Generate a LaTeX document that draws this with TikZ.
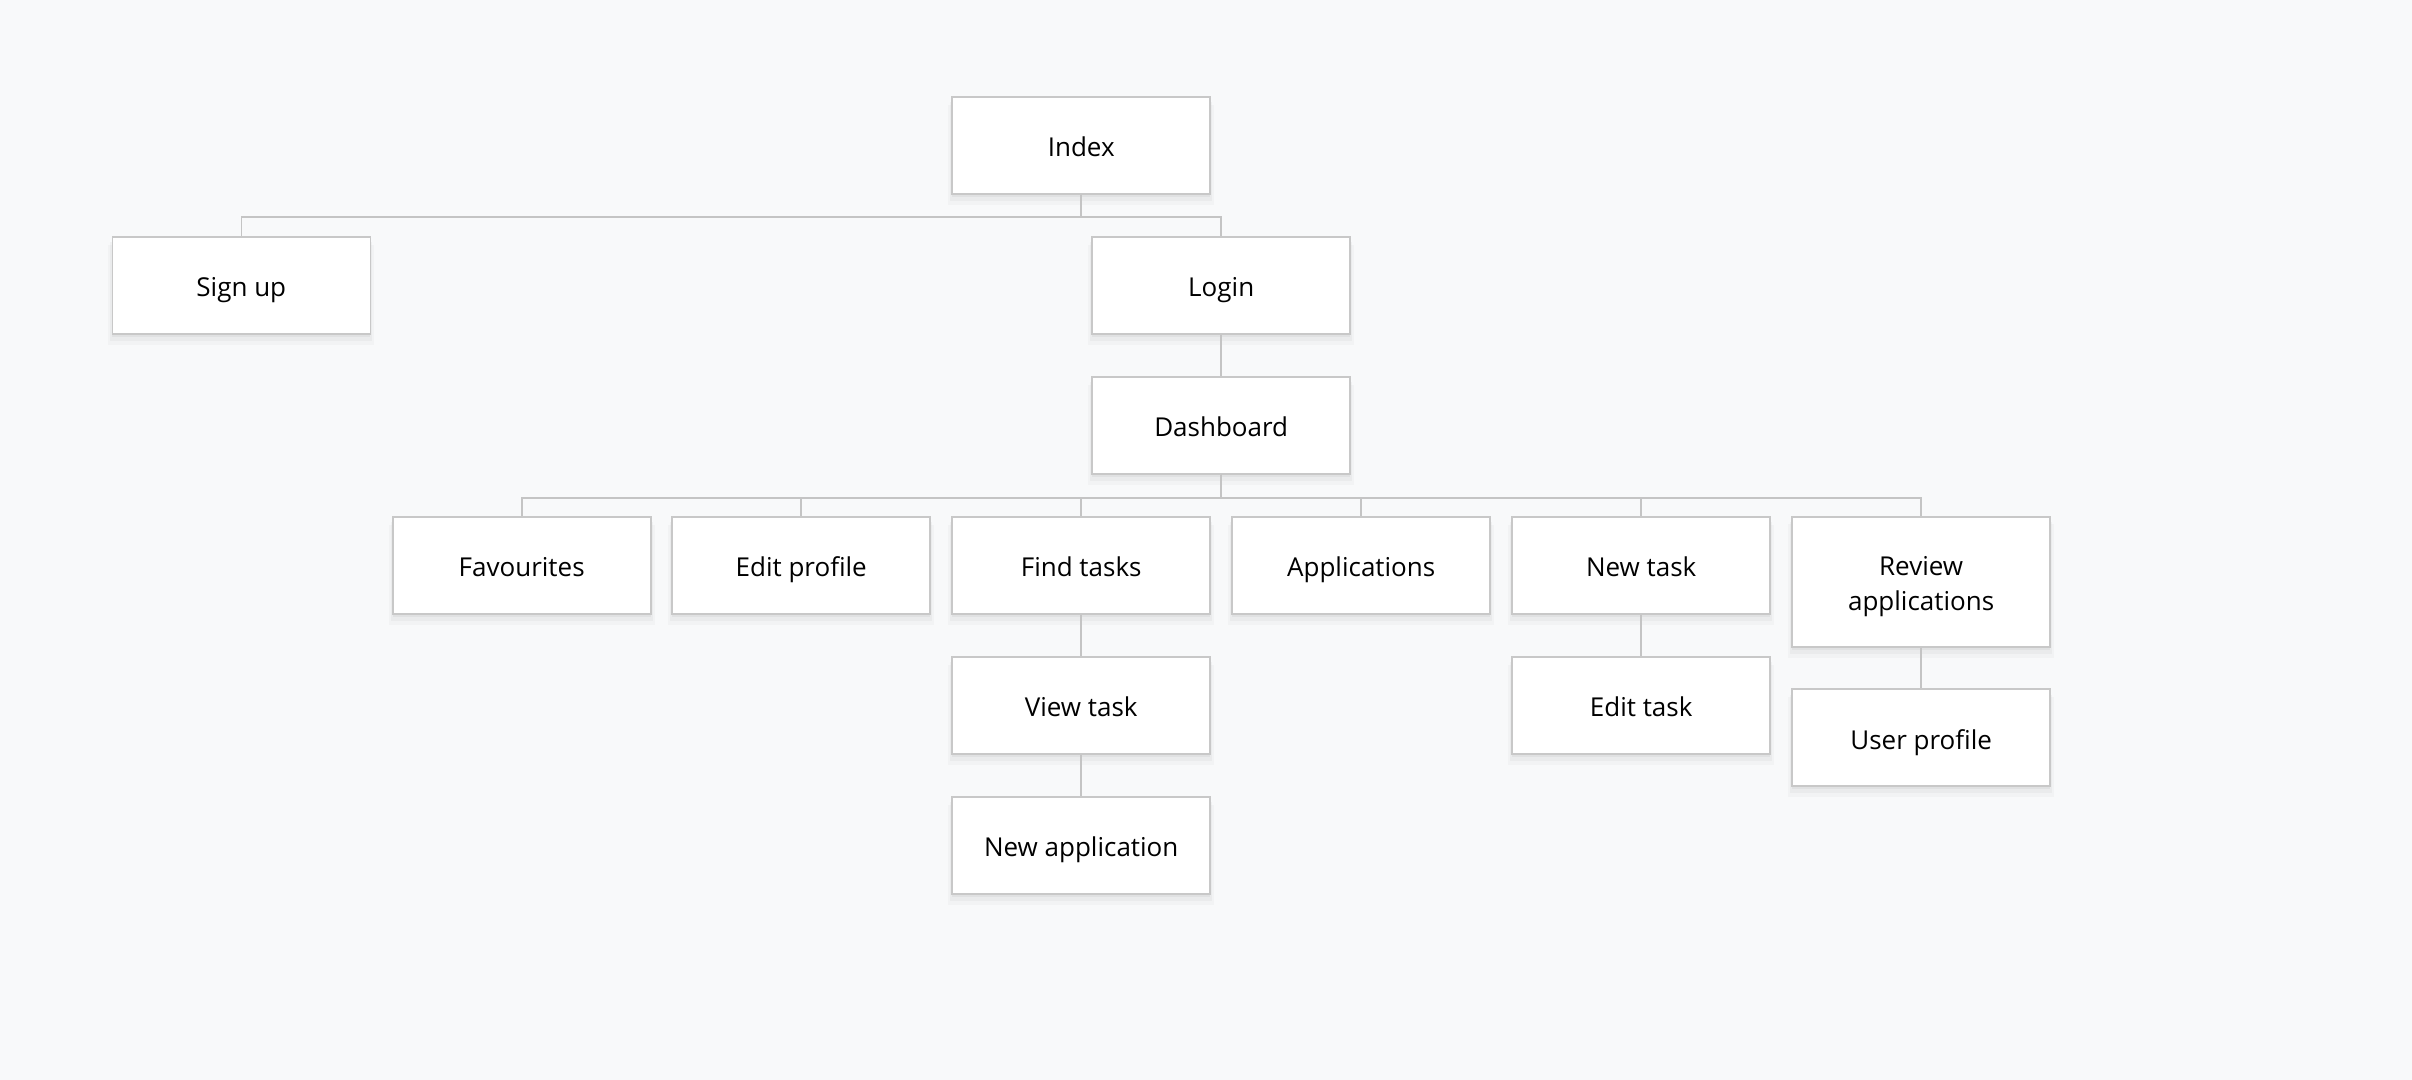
\documentclass[tikz,border=0pt]{standalone}
\usepackage{fontspec}
\setmainfont{Open Sans}
\usetikzlibrary{shadows}
\definecolor{bg}{HTML}{F8F9FA}
\definecolor{boxline}{HTML}{C8C8C8}
\definecolor{conn}{HTML}{C4C4C4}
\tikzset{
  page/.style={x=0.5pt,y=-0.5pt},
  softshadow/.style={
    drop shadow={shadow xshift=0pt, shadow yshift=-4.5pt, shadow scale=1.03, opacity=0.025, fill=black},
    drop shadow={shadow xshift=0pt, shadow yshift=-3pt, shadow scale=1.015, opacity=0.03, fill=black},
    drop shadow={shadow xshift=0pt, shadow yshift=-1.5pt, opacity=0.04, fill=black}},
  pagebox/.style={draw=boxline, fill=white, line width=0.8pt, rectangle,
    minimum width=129pt, minimum height=48.5pt, inner sep=2pt, align=center,
    text height=12.3pt, text depth=0.8pt,
    font=\fontsize{13pt}{17.5pt}\selectfont, softshadow},
  tallbox/.style={pagebox, minimum height=65pt, text height={}, text depth={}},
  link/.style={draw=conn, line width=0.8pt}
}
\begin{document}
\begin{tikzpicture}[page]
\fill[bg] (0,0) rectangle (2412,1080);
\useasboundingbox (0,0) rectangle (2412,1080);
\node[pagebox] (index) at (1081.2,145.5) {Index};
\node[pagebox] (signup) at (241.3,285.4) {Sign up};
\node[pagebox] (login) at (1221.2,285.4) {Login};
\node[pagebox] (dash) at (1221.2,425.4) {Dashboard};
\node[pagebox] (fav) at (521.7,565.4) {Favourites};
\node[pagebox] (edit) at (801.2,565.4) {Edit profile};
\node[pagebox] (find) at (1081.2,565.4) {Find tasks};
\node[pagebox] (apps) at (1361.2,565.4) {Applications};
\node[pagebox] (newtask) at (1641.2,565.4) {New task};
\node[tallbox] (review) at (1921.1,581.9) {\rule{0pt}{13.8pt}Review\\applications};
\node[pagebox] (view) at (1081.2,705.4) {View task};
\node[pagebox] (newapp) at (1081.2,845.4) {New application};
\node[pagebox] (edittask) at (1641.2,705.4) {Edit task};
\node[pagebox] (user) at (1921.1,737.7) {User profile};
% connectors
\draw[link] (index.south) -- ++(0,22.5) -| (signup.north);
\draw[link] (index.south) -- ++(0,22.5) -| (login.north);
\draw[link] (login.south) -- (dash.north);
\foreach \c in {fav,edit,find,apps,newtask,review}
  \draw[link] (dash.south) -- ++(0,23) -| (\c.north);
\draw[link] (find.south) -- (view.north);
\draw[link] (view.south) -- (newapp.north);
\draw[link] (newtask.south) -- (edittask.north);
\draw[link] (review.south) -- (user.north);
\end{tikzpicture}
\end{document}
